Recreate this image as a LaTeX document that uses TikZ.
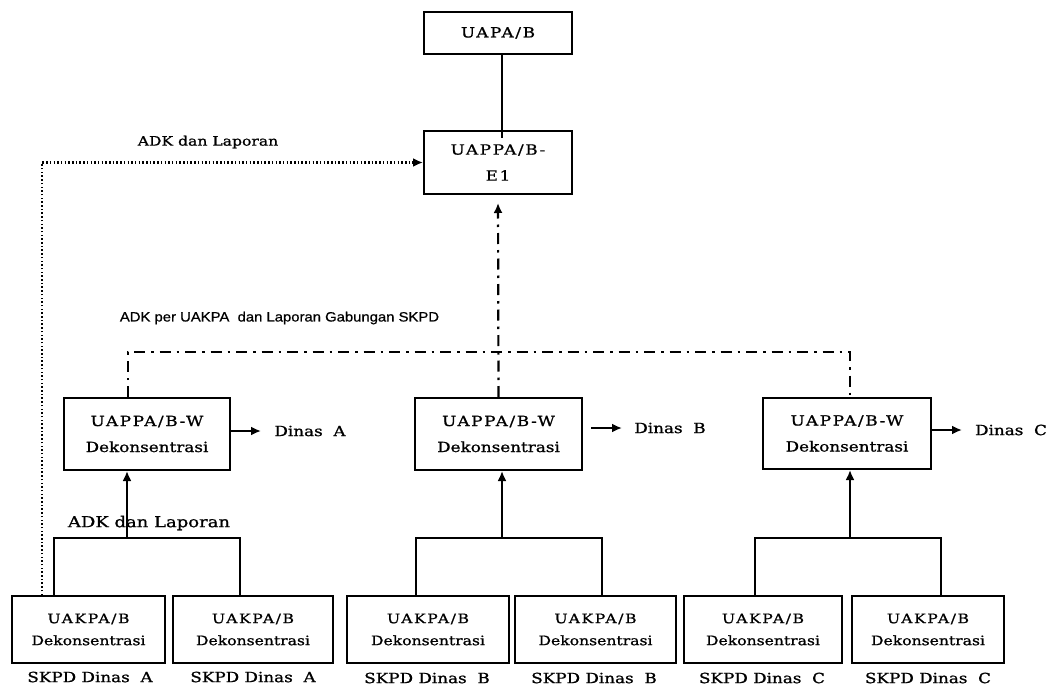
\documentclass[tikz,border=0pt]{standalone}
\usepackage{fontspec}
\usetikzlibrary{arrows.meta,calc}
\newfontfamily\boxserif[FakeStretch=1.2,FakeBold=1.0]{DejaVu Serif}
\newfontfamily\notesans[FakeBold=0.6]{Liberation Sans}
% wider tracking for the upper-case unit names
\newcommand{\unitname}[1]{{\addfontfeature{LetterSpace=12}#1}}
\begin{document}
\begin{tikzpicture}[x=1pt,y=-1pt,
  unit/.style={draw,line width=2pt,rectangle,inner sep=0pt,align=center,
    font=\boxserif\fontsize{14}{26}\selectfont},
  leaf/.style={unit,font=\boxserif\fontsize{13}{22}\selectfont},
  lbl/.style={inner sep=0pt,font=\boxserif\fontsize{14}{16}\selectfont},
  link/.style={line width=2pt},
  tip/.style={-{Latex[length=10pt,width=9pt]}},
  dashdot/.style={line width=2.2pt,dash pattern=on 11pt off 6pt on 2.5pt off 6pt},
  dotline/.style={line width=2.2pt,dash pattern=on 1.5pt off 2.2pt}]
\useasboundingbox[fill=white] (0,0) rectangle (1049,687);

% top level
\node[unit,minimum width=148,minimum height=42] (uapa) at (498,33) {\unitname{UAPA/B}};
\node[unit,minimum width=148,minimum height=63] (e1) at (498,162.5) {\unitname{UAPPA/B-}\\\unitname{E1}};

% regional units
\node[unit,minimum width=166,minimum height=72] (wa) at (147,434) {\unitname{UAPPA/B-W}\\Dekonsentrasi};
\node[unit,minimum width=167,minimum height=72] (wb) at (498.5,434) {\unitname{UAPPA/B-W}\\Dekonsentrasi};
\node[unit,minimum width=168,minimum height=71] (wc) at (847,433.5) {\unitname{UAPPA/B-W}\\Dekonsentrasi};

% reporting units
\node[leaf,minimum width=153,minimum height=67] (b1) at (88.5,629.5) {\unitname{UAKPA/B}\\Dekonsentrasi};
\node[leaf,minimum width=160,minimum height=67] (b2) at (253,629.5) {\unitname{UAKPA/B}\\Dekonsentrasi};
\node[leaf,minimum width=162,minimum height=67] (b3) at (428,629.5) {\unitname{UAKPA/B}\\Dekonsentrasi};
\node[leaf,minimum width=161,minimum height=67] (b4) at (595.5,629.5) {\unitname{UAKPA/B}\\Dekonsentrasi};
\node[leaf,minimum width=158,minimum height=67] (b5) at (763,629.5) {\unitname{UAKPA/B}\\Dekonsentrasi};
\node[leaf,minimum width=152,minimum height=67] (b6) at (928,629.5) {\unitname{UAKPA/B}\\Dekonsentrasi};

% captions under the reporting units
\node[lbl] (s1) at (90,677) {SKPD Dinas~~A};
\node[lbl] (s2) at (253,677) {SKPD Dinas~~A};
\node[lbl] (s3) at (427,678) {SKPD Dinas~~B};
\node[lbl] (s4) at (594,678) {SKPD Dinas~~B};
\node[lbl] (s5) at (762,678) {SKPD Dinas~~C};
\node[lbl] (s6) at (928,678) {SKPD Dinas~~C};

% Dinas targets
\node[lbl] (da) at (310,431) {Dinas~~A};
\node[lbl] (db) at (670,428) {Dinas~~B};
\node[lbl] (dc) at (1011,430) {Dinas~~C};

% flow labels
\node[lbl,font=\boxserif\fontsize{13}{15}\selectfont] (ltop) at (208,142) {ADK dan Laporan};
\node[lbl,font=\boxserif\fontsize{15}{17}\selectfont] (lbot) at (149,523) {ADK dan Laporan};
\node[inner sep=0pt,font=\notesans\fontsize{13.5}{15}\selectfont] (lmid) at (279.5,318)
  {\scalebox{1.1}[1]{ADK per UAKPA\ \ dan Laporan Gabungan SKPD}};

% routing points
\coordinate (ddl) at (128,352);
\coordinate (ddr) at (850,352);
\coordinate (aL) at (54,538);  \coordinate (aM) at (127,538); \coordinate (aR) at (240,538);
\coordinate (bL) at (416,538); \coordinate (bM) at (502,538); \coordinate (bR) at (602,538);
\coordinate (cL) at (755,538); \coordinate (cM) at (850,538); \coordinate (cR) at (941,538);
\coordinate (dt) at (42,162.5);

% top link
\draw[link] ($(uapa.south)+(4,0)$) -- ($(e1.north)+(4,8)$);

% consolidated flow to E1
\draw[dashdot] (ddl |- wa.north) -- (ddl) -- (ddr) -- (ddr |- wc.north);
\draw[dashdot,tip,shorten >=8pt] (wb.north) -- (e1.south);

% direct flow from the first reporting unit
\draw[dotline,tip] (dt |- b1.north) -- (dt) -- (e1.west);

% reporting units to regional units
\draw[link] (aL |- b1.north) -- (aL) -- (aR) -- (aR |- b2.north);
\draw[link,tip] (aM) -- (aM |- wa.south);
\draw[link] (bL |- b3.north) -- (bL) -- (bR) -- (bR |- b4.north);
\draw[link,tip] (bM) -- (bM |- wb.south);
\draw[link] (cL |- b5.north) -- (cL) -- (cR) -- (cR |- b6.north);
\draw[link,tip] (cM) -- (cM |- wc.south);

% regional units to Dinas
\draw[link,tip] (wa.east |- da) -- ++(30,0);
\draw[link,tip] ($(wb.east |- db)+(8,0)$) -- ++(31,0);
\draw[link,tip] (wc.east |- dc) -- ++(30,0);
\end{tikzpicture}
\end{document}
